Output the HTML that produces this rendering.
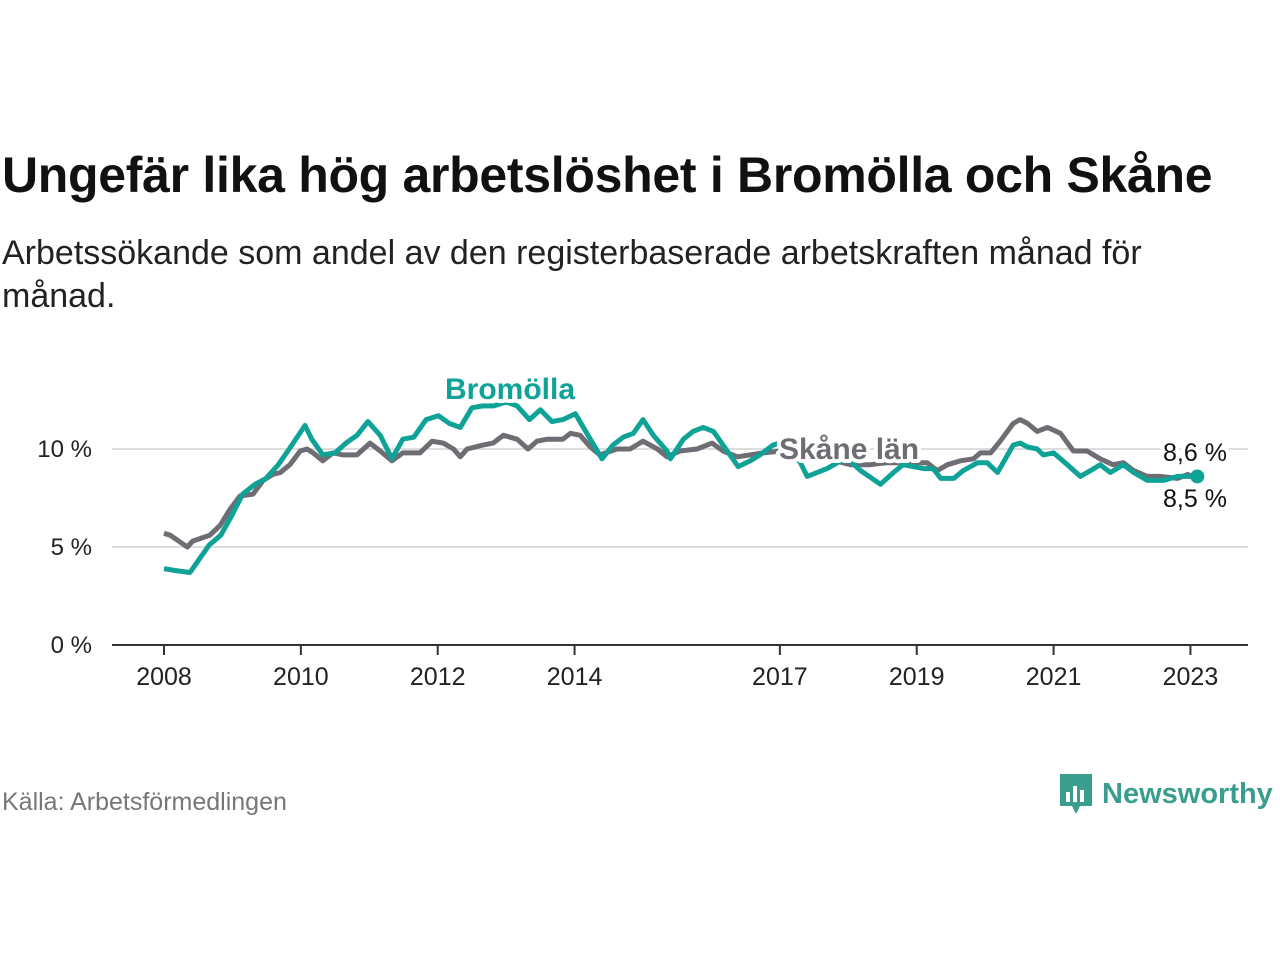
<!DOCTYPE html>
<html><head><meta charset="utf-8"><style>
body{margin:0;width:1280px;height:960px;background:#fff;font-family:"Liberation Sans",sans-serif;position:relative;overflow:hidden}
.t{position:absolute;left:2px;top:146px;font-size:50px;font-weight:bold;color:#111;letter-spacing:-0.3px;white-space:nowrap}
.s{position:absolute;left:2px;top:232px;font-size:34px;color:#222;line-height:43px;width:1200px}
.src{position:absolute;left:2px;top:788px;font-size:25px;color:#777}
.logo{position:absolute;left:1058px;top:772px;display:flex;align-items:center;gap:8px;color:#3a9e8f;font-size:29px;font-weight:bold}
</style></head><body>
<div class="t">Ungefär lika hög arbetslöshet i Bromölla och Skåne</div>
<div class="s">Arbetssökande som andel av den registerbaserade arbetskraften månad för månad.</div>
<svg id="c" width="1280" height="960" style="position:absolute;left:0;top:0"></svg>
<div class="src">Källa: Arbetsförmedlingen</div>
<div class="logo"><svg width="36" height="44" viewBox="0 0 36 44"><path d="M2 2h32v32H22l-4 8-4-8H2z" fill="#3a9e8f"/><rect x="8" y="20" width="4" height="10" fill="#fff"/><rect x="15" y="14" width="4" height="16" fill="#fff"/><rect x="22" y="18" width="4" height="12" fill="#fff"/></svg><span>Newsworthy</span></div>
<script>
const bromDates=[2008.00,2008.16,2008.38,2008.50,2008.66,2008.83,2008.99,2009.15,2009.33,2009.49,2009.67,2009.83,2010.06,2010.16,2010.32,2010.50,2010.66,2010.82,2010.98,2011.16,2011.33,2011.49,2011.65,2011.83,2012.01,2012.17,2012.33,2012.50,2012.66,2012.82,2013.00,2013.16,2013.34,2013.50,2013.67,2013.83,2014.01,2014.23,2014.40,2014.56,2014.71,2014.86,2015.00,2015.15,2015.35,2015.40,2015.59,2015.73,2015.88,2016.03,2016.23,2016.39,2016.57,2016.71,2016.90,2017.08,2017.30,2017.40,2017.69,2017.84,2017.99,2018.18,2018.47,2018.66,2018.80,2019.10,2019.24,2019.35,2019.54,2019.68,2019.89,2020.03,2020.18,2020.41,2020.51,2020.62,2020.76,2020.85,2021.00,2021.20,2021.39,2021.54,2021.68,2021.83,2022.02,2022.17,2022.37,2022.61,2022.81,2022.96,2023.10];
const bromValues=[3.9,3.8,3.7,4.3,5.1,5.6,6.6,7.7,8.2,8.5,9.2,10.0,11.2,10.5,9.7,9.8,10.3,10.7,11.4,10.7,9.5,10.5,10.6,11.5,11.7,11.3,11.1,12.1,12.2,12.2,12.4,12.2,11.5,12.0,11.4,11.5,11.8,10.5,9.5,10.2,10.6,10.8,11.5,10.7,9.9,9.5,10.5,10.9,11.1,10.9,9.9,9.1,9.4,9.7,10.2,10.4,9.3,8.6,9.0,9.3,9.5,8.9,8.2,8.8,9.2,9.0,9.0,8.5,8.5,8.9,9.3,9.3,8.8,10.2,10.3,10.1,10.0,9.7,9.8,9.2,8.6,8.9,9.2,8.8,9.2,8.8,8.4,8.4,8.6,8.6,8.6];
const skaneDates=[2008.00,2008.09,2008.34,2008.42,2008.67,2008.82,2008.96,2009.11,2009.30,2009.45,2009.59,2009.70,2009.84,2009.99,2010.09,2010.18,2010.32,2010.47,2010.62,2010.82,2011.01,2011.16,2011.33,2011.49,2011.74,2011.92,2012.08,2012.23,2012.33,2012.43,2012.66,2012.81,2012.96,2013.16,2013.32,2013.45,2013.60,2013.83,2013.94,2014.08,2014.23,2014.37,2014.62,2014.81,2015.00,2015.21,2015.35,2015.54,2015.79,2016.01,2016.17,2016.38,2016.57,2016.76,2017.01,2017.59,2018.03,2018.32,2018.57,2018.80,2019.15,2019.30,2019.45,2019.64,2019.83,2019.93,2020.08,2020.22,2020.41,2020.51,2020.62,2020.76,2020.91,2021.10,2021.29,2021.49,2021.68,2021.87,2022.02,2022.17,2022.37,2022.56,2022.81,2022.96,2023.10];
const skaneValues=[5.7,5.6,5.0,5.3,5.6,6.1,6.9,7.6,7.7,8.4,8.7,8.8,9.2,9.9,10.0,9.8,9.4,9.8,9.7,9.7,10.3,9.9,9.4,9.8,9.8,10.4,10.3,10.0,9.6,10.0,10.2,10.3,10.7,10.5,10.0,10.4,10.5,10.5,10.8,10.7,10.1,9.7,10.0,10.0,10.4,10.0,9.6,9.9,10.0,10.3,9.9,9.6,9.7,9.8,9.9,9.6,9.2,9.2,9.3,9.3,9.3,8.9,9.2,9.4,9.5,9.8,9.8,10.4,11.3,11.5,11.3,10.9,11.1,10.8,9.9,9.9,9.5,9.2,9.3,8.9,8.6,8.6,8.5,8.7,8.5];
const yTicks=[0,5,10];
const yTickLabels=["0 %","5 %","10 %"];
const xTicks=[2008,2010,2012,2014,2017,2019,2021,2023];
const NS="http://www.w3.org/2000/svg",svg=document.getElementById('c');
const X=d=>164+(d-2008)*68.43, Y=v=>645-v*19.6;
function mk(t,a,p){const e=document.createElementNS(NS,t);for(const k in a)e.setAttribute(k,a[k]);(p||svg).appendChild(e);return e;}
yTicks.forEach((v,i)=>{
 if(v>0){const g=mk('line',{x1:112,x2:1248,y1:Y(v),y2:Y(v),stroke:'#ddd','stroke-width':2});
 
 }
 const t=mk('text',{x:92,y:Y(v)+8,'text-anchor':'end','font-size':24,fill:'#222'});t.textContent=yTickLabels[i];
 
 
});
const ax=mk('line',{x1:112,x2:1248,y1:645,y2:645,stroke:'#333','stroke-width':2});


xTicks.forEach(d=>{
 mk('line',{x1:X(d),x2:X(d),y1:645,y2:655,stroke:'#333','stroke-width':2});
 const t=mk('text',{x:X(d),y:685,'text-anchor':'middle','font-size':25,fill:'#222'});t.textContent=d;
 
 
});
function line(ds,vs,col,name){const p=mk('path',{d:ds.map((d,i)=>(i?'L':'M')+X(d).toFixed(1)+','+Y(vs[i]).toFixed(1)).join(''),fill:'none',stroke:col,'stroke-width':5,'stroke-linejoin':'round'});
 
 }
line(skaneDates,skaneValues,'#6e6d73','skane-line');
line(bromDates,bromValues,'#0fa398','bromolla-line');
const dot=mk('circle',{cx:X(bromDates[bromDates.length-1]),cy:Y(bromValues[bromValues.length-1]),r:7,fill:'#0fa398'});


function lab(x,y,txt,col,name,bold,anchor,fs){const a={x:x,y:y,'font-size':fs,'font-weight':bold?'bold':'normal',fill:col,'text-anchor':anchor||'start',stroke:'#fff','stroke-width':8,'paint-order':'stroke','stroke-linejoin':'round'};const t=mk('text',a);t.textContent=txt;
 
 }
lab(510,399,'Bromölla','#0fa398','bromolla-label',true,'middle',30);
lab(779,459,'Skåne län','#6e6d73','skane-label',true,'start',30);
lab(1163,461,'8,6 %','#111','bromolla-value-label',false,'start',25);
lab(1163,507,'8,5 %','#111','skane-value-label',false,'start',25);
</script>
</body></html>
